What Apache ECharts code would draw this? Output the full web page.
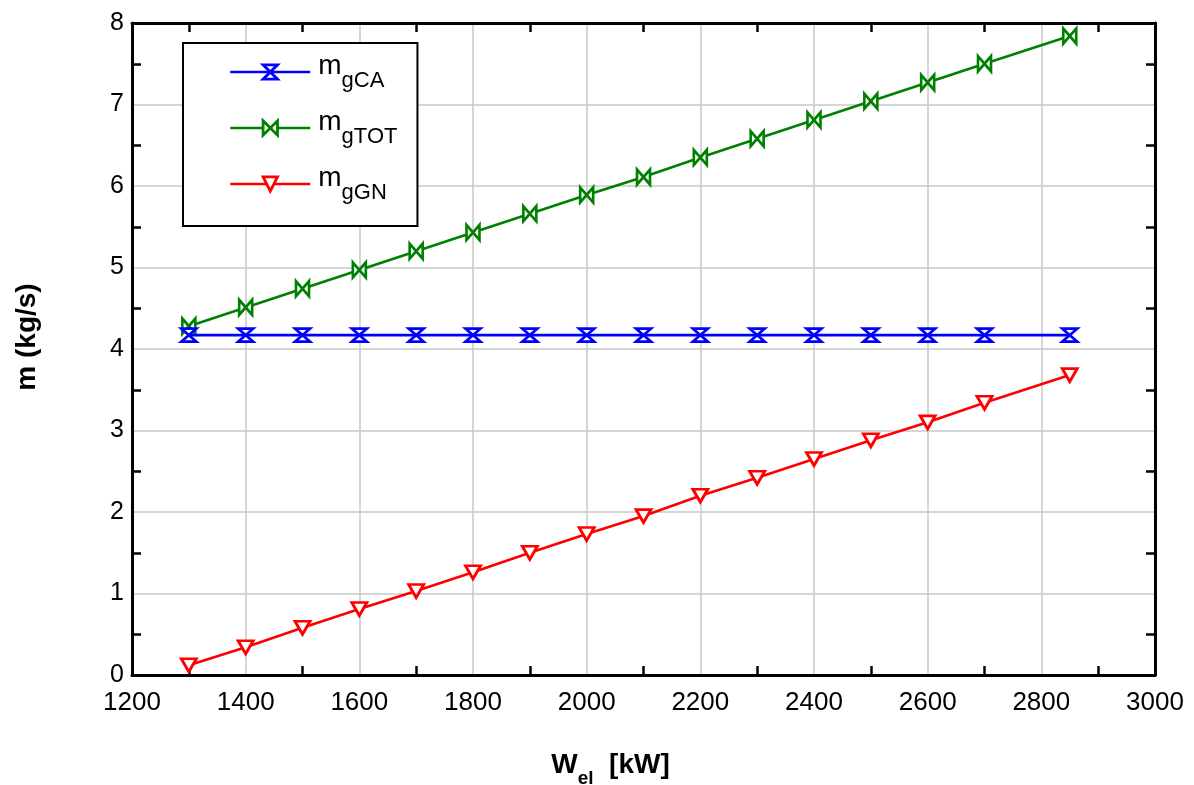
<!DOCTYPE html>
<html>
<head>
<meta charset="utf-8">
<script src="https://cdn.jsdelivr.net/npm/echarts@6/dist/echarts.min.js"></script>
<style>
  html, body { margin: 0; padding: 0; background: #fff; }
  #chart { width: 1194px; height: 785px; }
</style>
</head>
<body>
<div id="chart"></div>
<script>
// Electrical power output (kW)
const powerKW = [1300, 1400, 1500, 1600, 1700, 1800, 1900, 2000, 2100, 2200, 2300, 2400, 2500, 2600, 2700, 2850];
// Mass flow rates (kg/s)
const mgCA  = [4.17, 4.17, 4.17, 4.17, 4.17, 4.17, 4.17, 4.17, 4.17, 4.17, 4.17, 4.17, 4.17, 4.17, 4.17, 4.17];
const mgTOT = [4.28, 4.51, 4.74, 4.97, 5.20, 5.43, 5.66, 5.89, 6.11, 6.35, 6.58, 6.81, 7.04, 7.27, 7.50, 7.84];
const mgGN  = [0.12, 0.34, 0.58, 0.81, 1.03, 1.26, 1.50, 1.73, 1.95, 2.20, 2.42, 2.65, 2.88, 3.10, 3.34, 3.68];

const seriesNames = ['mgCA', 'mgTOT', 'mgGN'];
const subscripts = { mgCA: 'gCA', mgTOT: 'gTOT', mgGN: 'gGN' };

// outline marker shapes
const HOURGLASS = 'path://M0,0 L10,0 L0,10 L10,10 Z';
const BOWTIE    = 'path://M0,0 L10,10 L10,0 L0,10 Z';
const TRI_DOWN  = 'path://M0,0 L10,0 L5,10 Z';

const font = 'Liberation Sans, Arial, Helvetica, sans-serif';

function pairs(ys) { return powerKW.map((x, i) => [x, ys[i]]); }

// top / right frame axes: line plus inward half-step ticks only
function frameAxis(extra) {
  return Object.assign({
    type: 'value',
    axisLine: { show: true, onZero: false, lineStyle: { color: '#000', width: 3 } },
    axisTick: { show: false, inside: true },
    minorTick: { show: true, splitNumber: 2, length: 9, lineStyle: { color: '#000', width: 2.5 } },
    splitLine: { show: false },
    axisLabel: { show: false }
  }, extra);
}

function lineSeries(name, ys, color, symbol, size, z) {
  return {
    name: name,
    type: 'line',
    data: pairs(ys),
    z: z,
    symbol: symbol,
    symbolSize: size,
    showSymbol: true,
    lineStyle: { color: color, width: 2.6 },
    itemStyle: { color: '#fff', borderColor: color, borderWidth: 2.8 },
    emphasis: { disabled: true },
    animation: false
  };
}

const chart = echarts.init(document.getElementById('chart'), null, { renderer: 'canvas' });

chart.setOption({
  backgroundColor: '#fff',
  animation: false,
  textStyle: { fontFamily: font },
  grid: { left: 132, right: 39, top: 23, bottom: 110, containLabel: false, outerBoundsMode: 'none' },
  xAxis: [
    {
      type: 'value', min: 1200, max: 3000, interval: 200, position: 'bottom',
      axisLine: { show: true, onZero: false, lineStyle: { color: '#000', width: 3 } },
      axisTick: { show: false, inside: true },
      minorTick: { show: true, splitNumber: 2, length: 9, lineStyle: { color: '#000', width: 2.5 } },
      splitLine: { show: true, lineStyle: { color: '#c8c8c8', width: 1.5 } },
      axisLabel: { color: '#000', fontSize: 26, margin: 15, fontFamily: font, formatter: v => String(v) },
      name: '{W|W}{e|el}{k|  [kW]}',
      nameLocation: 'middle',
      nameGap: 76,
      nameTextStyle: {
        padding: [0, 66, 0, 0],
        rich: {
          W: { fontSize: 28, fontWeight: 'bold', color: '#000', fontFamily: font, lineHeight: 28, verticalAlign: 'top' },
          e: { fontSize: 19, fontWeight: 'bold', color: '#000', fontFamily: font, lineHeight: 37, verticalAlign: 'bottom' },
          k: { fontSize: 28, fontWeight: 'bold', color: '#000', fontFamily: font, lineHeight: 28, verticalAlign: 'top' }
        }
      }
    },
    frameAxis({ min: 1200, max: 3000, interval: 200, position: 'top' })
  ],
  yAxis: [
    {
      type: 'value', min: 0, max: 8, interval: 1, position: 'left',
      axisLine: { show: true, onZero: false, lineStyle: { color: '#000', width: 3 } },
      axisTick: { show: false, inside: true },
      minorTick: { show: true, splitNumber: 2, length: 9, lineStyle: { color: '#000', width: 2.5 } },
      splitLine: { show: true, lineStyle: { color: '#c8c8c8', width: 1.5 } },
      axisLabel: { color: '#000', fontSize: 25, margin: 8, fontFamily: font },
      name: 'm (kg/s)',
      nameLocation: 'middle',
      nameGap: 91,
      nameRotate: 90,
      nameTextStyle: { fontSize: 28, fontWeight: 'bold', color: '#000', fontFamily: font, padding: [0, 0, 0, 24] }
    },
    frameAxis({ min: 0, max: 8, interval: 1, position: 'right' })
  ],
  legend: {
    show: true,
    orient: 'vertical',
    left: 183,
    top: 43,
    data: seriesNames,
    itemWidth: 80,
    itemHeight: 18,
    itemGap: 16,
    padding: [9, 20, 22, 46],
    borderColor: '#000',
    borderWidth: 2,
    backgroundColor: '#fff',
    selectedMode: false,
    lineStyle: { width: 2.6 },
    itemStyle: { borderWidth: 2.8 },
    formatter: function (name) { return '{m|m}{s|' + subscripts[name] + '}'; },
    textStyle: {
      rich: {
        m: { fontSize: 28, color: '#000', fontFamily: font, lineHeight: 28, verticalAlign: 'top', padding: [0, 0, 0, 3] },
        s: { fontSize: 22, color: '#000', fontFamily: font, lineHeight: 40, verticalAlign: 'bottom' }
      }
    }
  },
  series: [
    lineSeries('mgCA', mgCA, '#0000ff', HOURGLASS, [15, 13], 4),
    lineSeries('mgTOT', mgTOT, '#008000', BOWTIE, [13, 15], 3),
    lineSeries('mgGN', mgGN, '#ff0000', TRI_DOWN, [15, 13], 3)
  ]
});
</script>
</body>
</html>
